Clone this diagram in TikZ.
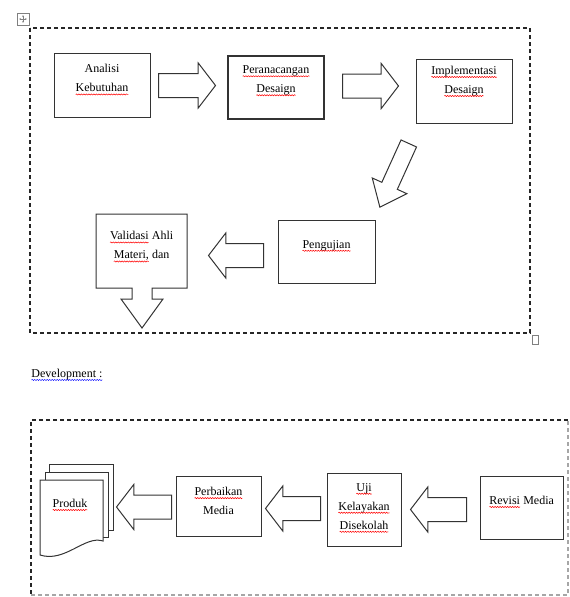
\documentclass[tikz,border=0pt]{standalone}
\usepackage{fontspec}
\setmainfont{Liberation Serif}
\usetikzlibrary{shapes.arrows,arrows.meta,decorations.pathmorphing}

\tikzset{
  box/.style={draw=black!80, line width=1pt, inner sep=0pt},
  txt/.style={font=\fontsize{12}{19}\selectfont, align=center, inner sep=0pt},
  doc/.style={draw=black!80, line width=1pt},
  frame/.style={draw=black!85, line width=1.1pt, dash pattern=on 4pt off 3pt},
  squiggle/.style={line width=0.5pt, decorate,
    decoration={snake, amplitude=0.6pt, segment length=2.5pt}},
  blockarrow/.style={single arrow, draw=black!80, line width=1pt, inner sep=0pt,
    inner ysep=11.5pt, minimum width=0pt, minimum height=56pt,
    single arrow head extend=10.5pt, single arrow tip angle=105, anchor=tail},
}
% word with a wavy mark under it
\newcommand\wavemark[2]{\tikz[baseline=(w.base)]{\node[inner sep=0pt, outer sep=0pt] (w) {#2};
  \draw[squiggle, #1] ([yshift=-2.5pt]w.base west) -- ([yshift=-2.5pt]w.base east);}}
\newcommand\spellmark[1]{\wavemark{red}{#1}}
\newcommand\grammark[1]{\wavemark{blue}{#1}}

\begin{document}
\begin{tikzpicture}[x=1pt, y=-1pt]
    \useasboundingbox (0,0) rectangle (570,597);
    % handles
    \draw[gray, line width=0.6pt] (17,13) rectangle (29,25);
    \draw[gray, line width=0.5pt, {Stealth[length=2pt]}-{Stealth[length=2pt]}] (23,15) -- (23,23);
    \draw[gray, line width=0.5pt, {Stealth[length=2pt]}-{Stealth[length=2pt]}] (19,19) -- (27,19);
    \draw[gray, line width=0.8pt] (532,335) rectangle (538,344);

    % design frame
    \draw[frame] (30,28) rectangle (530,333);
    \node[box, minimum width=96pt, minimum height=64pt] (ana) at (102,85) {};
    \node[txt] (anatxt) at (102,80) {Analisi\\\spellmark{Kebutuhan}};
    \node[box, line width=1.2pt, minimum width=96pt, minimum height=63pt] (per) at (276,87.5) {};
    \node[txt] (pertxt) at (276,81) {\spellmark{Peranacangan}\\\spellmark{Desaign}};
    \node[box, minimum width=96pt, minimum height=64pt] (imp) at (464,91) {};
    \node[txt] (imptxt) at (464,81.5) {\spellmark{Implementasi}\\\spellmark{Desaign}};
    \node[box, minimum width=97pt, minimum height=63pt] (pen) at (326.5,251.5) {};
    \node[txt] (pentxt) at (326.5,246) {\spellmark{Pengujian}};
    \draw[doc] (96,214) -- (187,214) -- (187,288) -- (152,288) -- (152,299) -- (163,299)
      -- (142,328) -- (121,299) -- (132,299) -- (132,288) -- (96,288) -- cycle;
    \node[txt] (val) at (141.5,247) {\spellmark{Validasi} Ahli\\\spellmark{Materi,} dan};

    \node[blockarrow, minimum height=57pt] (a1) at (158,85.5) {};
    \node[blockarrow] (a2) at (342,86) {};
    \node[blockarrow, inner ysep=8pt, minimum height=70pt, single arrow tip angle=78,
      rotate=-114.4] (a3) at (409,143) {};
    \node[blockarrow, rotate=180, minimum height=55pt] (a4) at (264,255.5) {};

    % development
    \node[txt, anchor=west] (dev) at (31,375) {\grammark{Development :}};
    \draw[frame] (568,420) -- (31,420) -- (31,595);
    \draw[frame, draw=gray!70] (31,595) -- (568,595) -- (568,420);

    \draw[doc] (49,472) -- (49,464) -- (113,464) -- (113,530) -- (108,530);
    \draw[doc] (45,480) -- (45,472) -- (108,472) -- (108,537) -- (103,537);
    \draw[doc, fill=white] (40,480) -- (103,480) -- (103,541)
      .. controls (85,535) and (65,563) .. (40,555) -- cycle;
    \node[txt] (prod) at (70,505) {\spellmark{Produk}};
    \node[box, minimum width=85pt, minimum height=60pt] (perb) at (218.5,506) {};
    \node[txt] (perbtxt) at (218.5,501) {\spellmark{Perbaikan}\\Media};
    \node[box, minimum width=74pt, minimum height=73pt] (uji) at (364,509.5) {};
    \node[txt] (ujitxt) at (364,508) {\spellmark{Uji}\\\spellmark{Kelayakan}\\\spellmark{Disekolah}};
    \node[box, minimum width=83pt, minimum height=63pt] (rev) at (521.5,507.5) {};
    \node[txt] (revtxt) at (521.5,502) {\spellmark{Revisi} Media};

    \node[blockarrow, rotate=180, minimum height=55pt] (a5) at (172,507) {};
    \node[blockarrow, rotate=180, minimum height=55pt] (a6) at (321,508.5) {};
    \node[blockarrow, rotate=180] (a7) at (467,509.5) {};
\end{tikzpicture}
\end{document}
